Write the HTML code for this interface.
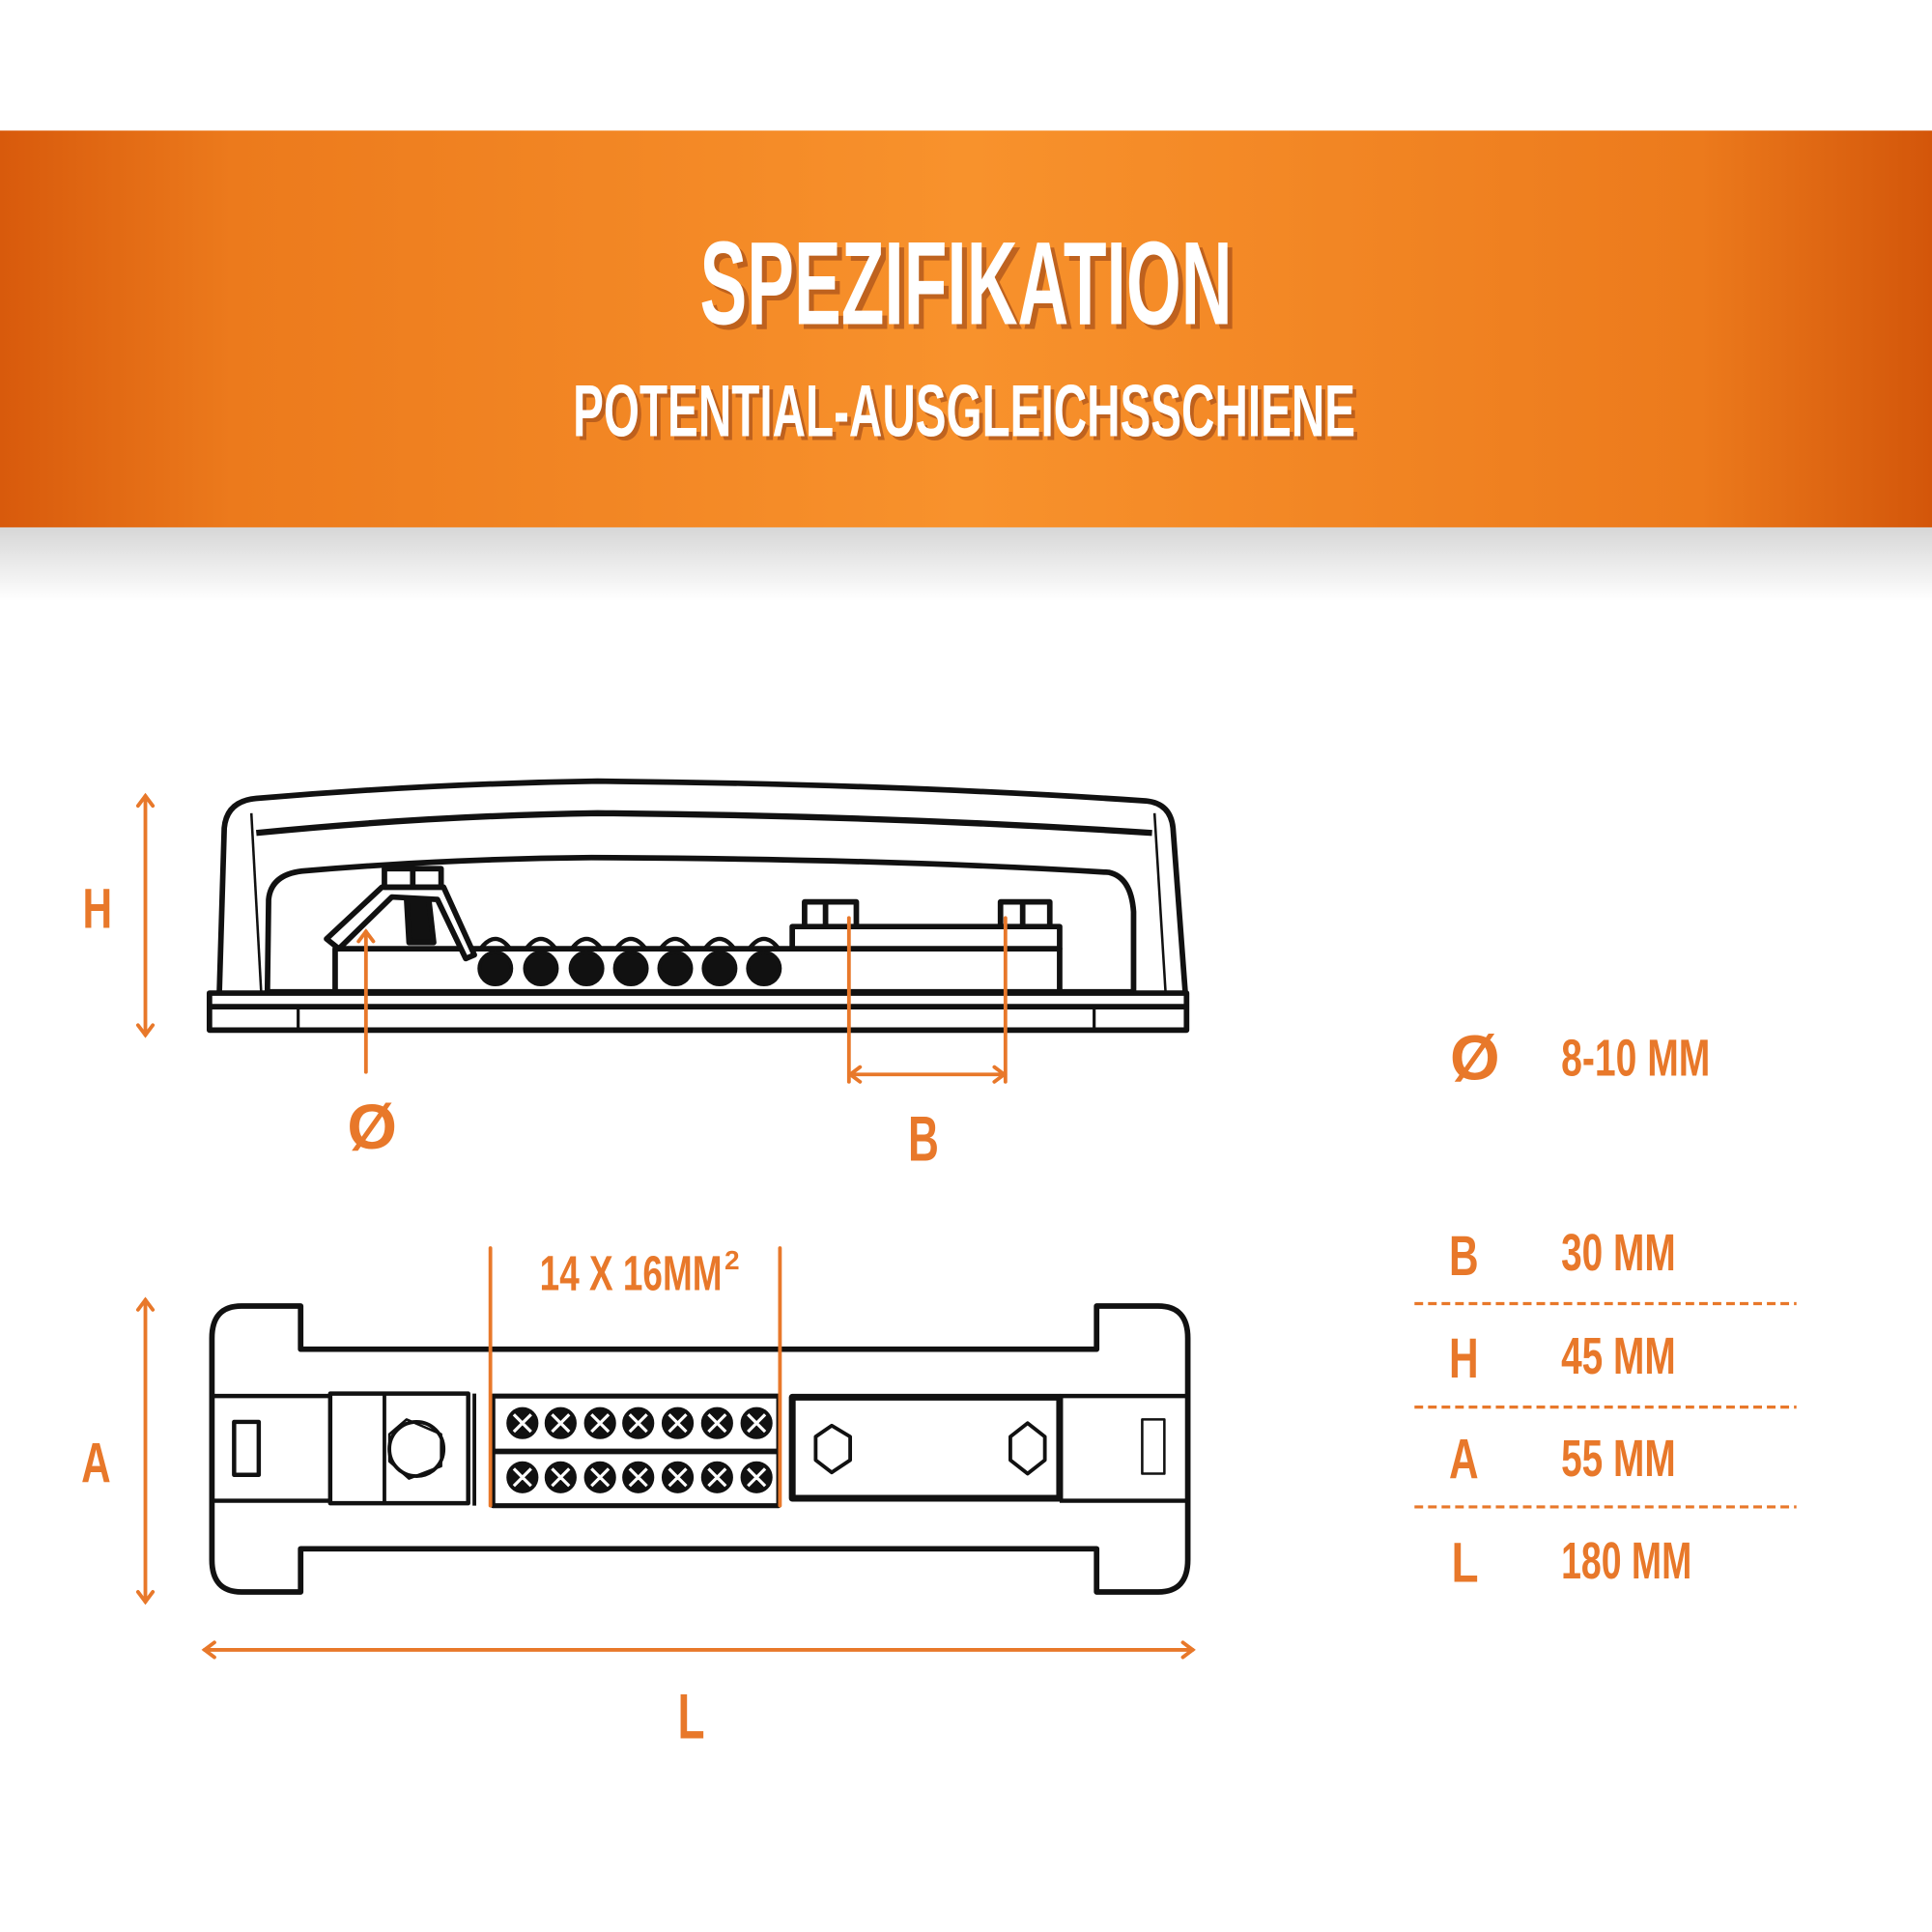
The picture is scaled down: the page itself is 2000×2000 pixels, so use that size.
<!DOCTYPE html>
<html><head><meta charset="utf-8"><style>
html,body{margin:0;padding:0;background:#fff;}
svg{display:block;}
text{font-family:"Liberation Sans Narrow","Liberation Sans",sans-serif;font-weight:bold;}
</style></head><body>
<svg width="2000" height="2000" viewBox="0 0 1568 1568" xmlns="http://www.w3.org/2000/svg">
<defs>
<linearGradient id="ban" x1="0" x2="1" y1="0" y2="0">
<stop offset="0" stop-color="#d85a0c"/><stop offset="0.12" stop-color="#ec7a1c"/>
<stop offset="0.5" stop-color="#f8922c"/><stop offset="0.88" stop-color="#ec7a1c"/>
<stop offset="1" stop-color="#d3560a"/></linearGradient>
<linearGradient id="sh" x1="0" x2="0" y1="0" y2="1">
<stop offset="0" stop-color="#000" stop-opacity="0.16"/><stop offset="1" stop-color="#000" stop-opacity="0"/></linearGradient>
</defs>
<rect x="0" y="0" width="1568" height="1568" fill="#fff"/>
<rect x="0" y="106" width="1568" height="322" fill="url(#ban)"/>
<rect x="0" y="428" width="1568" height="60" fill="url(#sh)"/>
<g text-anchor="start">
<text x="572" y="267" font-size="96" fill="#a8501a" opacity="0.7" textLength="432" lengthAdjust="spacingAndGlyphs">SPEZIFIKATION</text>
<text x="568" y="263" font-size="96" fill="#fff" textLength="432" lengthAdjust="spacingAndGlyphs">SPEZIFIKATION</text>
<text x="468" y="357" font-size="60" fill="#a8501a" opacity="0.7" textLength="635" lengthAdjust="spacingAndGlyphs">POTENTIAL-AUSGLEICHSSCHIENE</text>
<text x="465" y="354" font-size="60" fill="#fff" textLength="635" lengthAdjust="spacingAndGlyphs">POTENTIAL-AUSGLEICHSSCHIENE</text>
</g>

<!-- side view -->
<g fill="none" stroke="#111" stroke-width="4.5" stroke-linejoin="round">
<rect x="170" y="806" width="793" height="30" fill="#fff"/>
<line x1="170" y1="817" x2="963" y2="817"/>
<line x1="242" y1="817" x2="242" y2="836" stroke-width="2.5"/>
<line x1="888" y1="817" x2="888" y2="836" stroke-width="2.5"/>
<path d="M178 806 L182 672 Q184 650 208 648 Q350 636 485 634 Q720 636 930 650 Q950 652 952 672 L962 806"/>
<path d="M208 676 Q350 662 485 660 Q720 662 935 676" stroke-width="5"/>
<line x1="204" y1="660" x2="212" y2="806" stroke-width="2"/>
<line x1="937" y1="660" x2="946" y2="806" stroke-width="2"/>
<path d="M217 806 L218 730 Q220 710 245 707 Q360 697 480 696 Q720 697 900 708 Q918 712 920 740 L920 806"/>
<line x1="217" y1="805" x2="920" y2="805"/>
<path d="M272 803 L272 770 L380 770 M380 770 L860 770 L860 803"/>
<path d="M265 762 L310 720 L360 720 L385 775 L378 778 L355 730 L318 728 L275 770 Z" fill="#fff"/>
<rect x="312" y="705" width="46" height="15"/>
<line x1="335" y1="705" x2="335" y2="720"/>
<path d="M330 730 L348 730 L352 765 L332 765 Z" fill="#111"/>
<rect x="643" y="752" width="217" height="18" fill="#fff"/>
<rect x="653" y="732" width="42" height="20" fill="#fff"/>
<line x1="670" y1="732" x2="670" y2="752"/>
<rect x="812" y="732" width="40" height="20" fill="#fff"/>
<line x1="830" y1="732" x2="830" y2="752"/>
</g>
<g fill="#111" stroke="#111" stroke-width="3">
<circle cx="402" cy="786" r="13"/><circle cx="439" cy="786" r="13"/><circle cx="476" cy="786" r="13"/>
<circle cx="512" cy="786" r="13"/><circle cx="548" cy="786" r="13"/><circle cx="584" cy="786" r="13"/><circle cx="620" cy="786" r="13"/>
</g>
<g fill="none" stroke="#111" stroke-width="3.5">
<path d="M390 770 Q402 754 414 770 M427 770 Q439 754 451 770 M464 770 Q476 754 488 770 M500 770 Q512 754 524 770 M536 770 Q548 754 560 770 M572 770 Q584 754 596 770 M608 770 Q620 754 632 770"/>
</g>

<!-- top view -->
<g fill="none" stroke="#111" stroke-width="4.5" stroke-linejoin="round">
<path d="M196 1060 H244 V1095 H890 V1060 H940 Q964 1060 964 1086 V1266 Q964 1292 940 1292 H890 V1257 H244 V1292 H196 Q172 1292 172 1266 V1086 Q172 1060 196 1060 Z" fill="#fff"/>
<line x1="172" y1="1133" x2="268" y2="1133" stroke-width="3.5"/>
<line x1="172" y1="1218" x2="268" y2="1218" stroke-width="3.5"/>
<line x1="860" y1="1133" x2="964" y2="1133" stroke-width="3.5"/>
<line x1="860" y1="1218" x2="964" y2="1218" stroke-width="3.5"/>
<rect x="190" y="1154" width="20" height="43" stroke-width="3.5"/>
<rect x="927" y="1152" width="18" height="44" stroke-width="2"/>
<rect x="268" y="1131" width="112" height="89" stroke-width="3.5"/>
<line x1="312" y1="1131" x2="312" y2="1220" stroke-width="3"/>
<circle cx="338" cy="1176" r="22" stroke-width="3"/>
<polygon points="330,1152 358,1164 358,1190 332,1200 316,1186 316,1164" stroke-width="2"/>
<line x1="385" y1="1131" x2="385" y2="1222" stroke-width="3"/>
<rect x="400" y="1133" width="232" height="89" stroke-width="4"/>
<line x1="400" y1="1178" x2="632" y2="1178" stroke-width="4.5"/>
<rect x="643" y="1134" width="217" height="82" stroke-width="5.5"/>
<polygon points="675,1157 690,1166 690,1185 675,1195 662,1185 662,1166" stroke-width="3"/>
<polygon points="834,1155 848,1166 848,1185 834,1196 820,1185 820,1166" stroke-width="3"/>
</g>
<g fill="#111" stroke="#111" stroke-width="2">
<circle cx="424" cy="1155" r="12"/><circle cx="455" cy="1155" r="12"/><circle cx="487" cy="1155" r="12"/><circle cx="518" cy="1155" r="12"/><circle cx="550" cy="1155" r="12"/><circle cx="582" cy="1155" r="12"/><circle cx="614" cy="1155" r="12"/>
<circle cx="424" cy="1199" r="12"/><circle cx="455" cy="1199" r="12"/><circle cx="487" cy="1199" r="12"/><circle cx="518" cy="1199" r="12"/><circle cx="550" cy="1199" r="12"/><circle cx="582" cy="1199" r="12"/><circle cx="614" cy="1199" r="12"/>
</g>
<g stroke="#fff" stroke-width="2.5">
<path d="M417 1148 L431 1162 M431 1148 L417 1162 M448 1148 L462 1162 M462 1148 L448 1162 M480 1148 L494 1162 M494 1148 L480 1162 M511 1148 L525 1162 M525 1148 L511 1162 M543 1148 L557 1162 M557 1148 L543 1162 M575 1148 L589 1162 M589 1148 L575 1162 M607 1148 L621 1162 M621 1148 L607 1162"/>
<path d="M417 1192 L431 1206 M431 1192 L417 1206 M448 1192 L462 1206 M462 1192 L448 1206 M480 1192 L494 1206 M494 1192 L480 1206 M511 1192 L525 1206 M525 1192 L511 1206 M543 1192 L557 1206 M557 1192 L543 1206 M575 1192 L589 1206 M589 1192 L575 1206 M607 1192 L621 1206 M621 1192 L607 1206"/>
</g>

<!-- orange dimensions -->
<g stroke="#e8782a" stroke-width="3" fill="none" stroke-linecap="round">
<line x1="118" y1="646" x2="118" y2="840"/><path d="M112 654 L118 646 L124 654 M112 832 L118 840 L124 832"/>
<line x1="297" y1="870" x2="297" y2="756"/><path d="M291 764 L297 756 L303 764"/>
<line x1="689" y1="745" x2="689" y2="878"/><line x1="816" y1="745" x2="816" y2="878"/>
<line x1="690" y1="872" x2="815" y2="872"/><path d="M698 866 L690 872 L698 878 M807 866 L815 872 L807 878"/>
<line x1="118" y1="1055" x2="118" y2="1300"/><path d="M112 1063 L118 1055 L124 1063 M112 1292 L118 1300 L124 1292"/>
<line x1="398" y1="1013" x2="398" y2="1222"/><line x1="633" y1="1013" x2="633" y2="1222"/>
<line x1="166" y1="1339" x2="968" y2="1339"/><path d="M174 1333 L166 1339 L174 1345 M960 1333 L968 1339 L960 1345"/>
<line x1="1148" y1="1058" x2="1458" y2="1058" stroke-dasharray="7 4" stroke-width="2.5" stroke-linecap="butt"/>
<line x1="1148" y1="1142" x2="1458" y2="1142" stroke-dasharray="7 4" stroke-width="2.5" stroke-linecap="butt"/>
<line x1="1148" y1="1223" x2="1458" y2="1223" stroke-dasharray="7 4" stroke-width="2.5" stroke-linecap="butt"/>
</g>
<g fill="#e8782a">
<text x="67" y="753" font-size="46" textLength="24" lengthAdjust="spacingAndGlyphs">H</text>
<text x="302" y="932" font-size="52" text-anchor="middle" font-family="'DejaVu Sans',sans-serif">Ø</text>
<text x="737" y="942" font-size="52" textLength="25" lengthAdjust="spacingAndGlyphs">B</text>
<text x="66" y="1203" font-size="46" textLength="24" lengthAdjust="spacingAndGlyphs">A</text>
<text x="550" y="1411" font-size="52" textLength="22" lengthAdjust="spacingAndGlyphs">L</text>
<text x="1197" y="876" font-size="52" text-anchor="middle" font-family="'DejaVu Sans',sans-serif">Ø</text>
<text x="1176" y="1035" font-size="46" textLength="24" lengthAdjust="spacingAndGlyphs">B</text>
<text x="1176" y="1118" font-size="46" textLength="24" lengthAdjust="spacingAndGlyphs">H</text>
<text x="1176" y="1200" font-size="46" textLength="24" lengthAdjust="spacingAndGlyphs">A</text>
<text x="1178" y="1284" font-size="46" textLength="22" lengthAdjust="spacingAndGlyphs">L</text>
<text x="438" y="1047" font-size="40" textLength="148" lengthAdjust="spacingAndGlyphs">14 X 16MM</text>
<text x="588" y="1030" font-size="22">2</text>
<text x="1267" y="873" font-size="42" textLength="121" lengthAdjust="spacingAndGlyphs">8-10 MM</text>
<text x="1267" y="1031" font-size="42" textLength="93" lengthAdjust="spacingAndGlyphs">30 MM</text>
<text x="1267" y="1115" font-size="42" textLength="93" lengthAdjust="spacingAndGlyphs">45 MM</text>
<text x="1267" y="1198" font-size="42" textLength="93" lengthAdjust="spacingAndGlyphs">55 MM</text>
<text x="1267" y="1281" font-size="42" textLength="106" lengthAdjust="spacingAndGlyphs">180 MM</text>
</g>
</svg>
</body></html>
